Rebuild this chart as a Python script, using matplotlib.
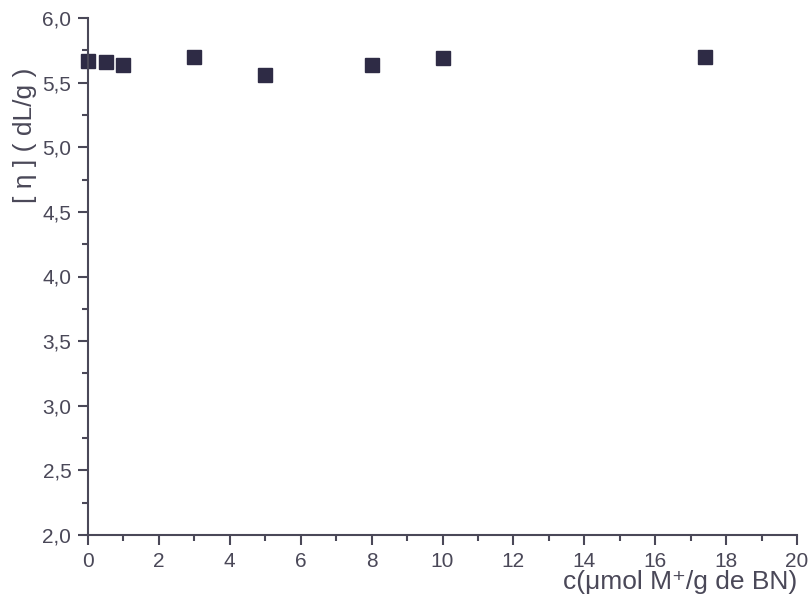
import matplotlib.pyplot as plt
from matplotlib.ticker import MultipleLocator, FuncFormatter

plt.rcParams['font.family'] = ['Liberation Sans', 'DejaVu Sans']

# concentration (umol M+/g BN) and intrinsic viscosity (dL/g)
conc = [0, 0.5, 1, 3, 5, 8, 10, 17.4]
visc = [5.667, 5.657, 5.638, 5.70, 5.56, 5.638, 5.69, 5.695]

axis_col = '#4a4858'
mark_col = '#2e2b45'

fig = plt.figure(figsize=(8.1, 6.15), dpi=100)
ax = fig.add_axes([88 / 810, 1 - 535 / 615, (797 - 88) / 810, (535 - 18) / 615])

ax.plot(conc, visc, 's', color=mark_col, markersize=9.5, clip_on=False)

ax.set_xlim(0, 20)
ax.set_ylim(2.0, 6.0)
ax.xaxis.set_major_locator(MultipleLocator(2))
ax.xaxis.set_minor_locator(MultipleLocator(1))
ax.yaxis.set_major_locator(MultipleLocator(0.5))
ax.yaxis.set_minor_locator(MultipleLocator(0.25))
ax.yaxis.set_major_formatter(FuncFormatter(lambda v, p: f'{v:.1f}'.replace('.', ',')))

for s in ['top', 'right']:
    ax.spines[s].set_visible(False)
for s in ['left', 'bottom']:
    ax.spines[s].set_color(axis_col)
    ax.spines[s].set_linewidth(1.5)

ax.tick_params(which='major', direction='out', length=7, width=1.5, color=axis_col,
               labelsize=15, labelcolor=axis_col, pad=5)
ax.tick_params(which='minor', direction='out', length=4, width=1.5, color=axis_col)

fig.text(797 / 810, 1 - 582 / 615, 'c(\u03bcmol M\u207a/g de BN)', ha='right', va='center',
         fontsize=19, color=axis_col)
fig.text(25 / 810, 1 - 135 / 615, '[ \u03b7 ] ( dL/g )', rotation=90, ha='center', va='center',
         fontsize=19, color=axis_col)

fig.savefig('out.png', dpi=100)
